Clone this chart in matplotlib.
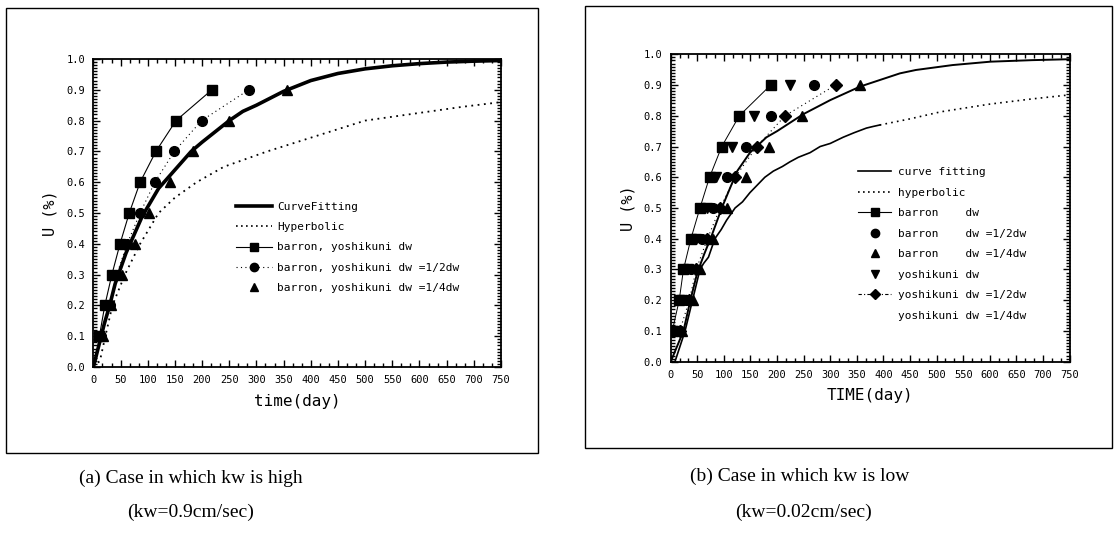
import matplotlib
matplotlib.use('Agg')
import matplotlib.pyplot as plt
from matplotlib.ticker import MultipleLocator, AutoMinorLocator
from matplotlib.lines import Line2D
from matplotlib.patches import Rectangle

plt.rcParams['font.family'] = 'DejaVu Sans Mono'

u_levels = [0.1, 0.2, 0.3, 0.4, 0.5, 0.6, 0.7, 0.8, 0.9]

# (a) kw high
a_fit_t = [0, 10, 20, 30, 40, 50, 60, 70, 80, 90, 100, 120, 140, 160, 180, 200,
           225, 250, 275, 300, 350, 400, 450, 500, 550, 600, 650, 700, 750]
a_fit_u = [0, 0.07, 0.14, 0.2, 0.27, 0.32, 0.37, 0.41, 0.45, 0.49, 0.52, 0.58, 0.62,
           0.66, 0.70, 0.73, 0.765, 0.80, 0.83, 0.85, 0.895, 0.93, 0.953, 0.968,
           0.978, 0.985, 0.99, 0.993, 0.995]
a_hyp_t = [0, 12, 22, 35, 58, 86, 120, 150, 190, 240, 320, 410, 500, 600, 680, 750]
a_hyp_u = [0, 0.02, 0.1, 0.2, 0.3, 0.4, 0.5, 0.55, 0.6, 0.65, 0.7, 0.75, 0.8, 0.825,
           0.845, 0.86]
a_dw = [11, 21, 34, 49, 66, 86, 115, 152, 218]
a_half = [14, 30, 43, 62, 86, 113, 149, 199, 286]
a_quarter = [18, 32, 52, 76, 103, 141, 183, 250, 357]

# (b) kw low
b_fit_t = [0, 12, 24, 37, 50, 63, 77, 96, 108, 125, 149, 180, 200, 249, 300, 356,
           431, 461, 530, 601, 680, 750]
b_fit_u = [0, 0.05, 0.1, 0.2, 0.29, 0.35, 0.41, 0.5, 0.55, 0.62, 0.68, 0.73, 0.75,
           0.805, 0.851, 0.895, 0.938, 0.949, 0.965, 0.976, 0.981, 0.984]
b_meas_t = [0, 8, 27, 41, 55, 62, 71, 83, 95, 105, 121, 135, 149, 163, 177, 193, 210,
            224, 240, 262, 281, 300, 324, 345, 368, 380, 393]
b_meas_u = [0, 0.0, 0.1, 0.2, 0.3, 0.32, 0.34, 0.4, 0.43, 0.46, 0.5, 0.52, 0.55,
            0.575, 0.6, 0.62, 0.635, 0.65, 0.665, 0.68, 0.7, 0.71, 0.73, 0.745, 0.76,
            0.765, 0.77]
b_hyp_t = [393, 450, 508, 600, 680, 750]
b_hyp_u = [0.77, 0.79, 0.813, 0.838, 0.855, 0.868]
b_barron_dw = [3, 16, 24, 38, 55, 73, 96, 129, 188]
b_barron_half = [11, 29, 39, 58, 80, 106, 141, 188, 270]
b_barron_quarter = [22, 41, 55, 80, 106, 142, 184, 247, 356]
b_yoshi_dw = [8, 22, 32, 48, 68, 86, 116, 156, 224]
b_yoshi_half = [17, 35, 48, 69, 93, 121, 162, 215, 310]

W, H = 1118, 542


def px_axes(fig, x0, x1, ytop, ybot):
    return fig.add_axes([x0 / W, 1 - ybot / H, (x1 - x0) / W, (ybot - ytop) / H])


def style(ax, xlabel):
    ax.set_xlim(0, 750)
    ax.set_ylim(0, 1.0)
    ax.xaxis.set_major_locator(MultipleLocator(50))
    ax.xaxis.set_minor_locator(AutoMinorLocator(3))
    ax.yaxis.set_major_locator(MultipleLocator(0.1))
    ax.yaxis.set_minor_locator(AutoMinorLocator(10))
    ax.yaxis.set_major_formatter(plt.FormatStrFormatter('%.1f'))
    ax.tick_params(which='both', direction='in', top=True, right=True, labelsize=7.5,
                   width=1, pad=6)
    ax.tick_params(which='major', length=5)
    ax.tick_params(which='minor', length=3)
    for s in ax.spines.values():
        s.set_linewidth(1.3)
    ax.set_xlabel(xlabel, fontsize=11.5, labelpad=6)
    ax.set_ylabel('U (%)', fontsize=11, labelpad=6)


fig = plt.figure(figsize=(W / 100, H / 100), dpi=100)

# frames around panels
fig.patches.append(Rectangle((6 / W, 1 - 453 / H), 532 / W, 445 / H, fill=False,
                             lw=1, ec='k', transform=fig.transFigure))
fig.patches.append(Rectangle((585 / W, 1 - 448 / H), 527 / W, 442 / H, fill=False,
                             lw=1, ec='k', transform=fig.transFigure))

# ---- panel (a)
ax1 = px_axes(fig, 93.4, 501, 59, 367)
ax1.plot(a_hyp_t, a_hyp_u, 'k', ls=(0, (1, 2.5)), lw=1.3)
ax1.plot(a_fit_t, a_fit_u, 'k-', lw=2.6)
ax1.plot(a_dw, u_levels, 'k-', lw=0.8, marker='s', ms=7)
ax1.plot(a_half, u_levels, 'k', ls=(0, (1, 3)), lw=0.8, marker='o', ms=7)
ax1.plot(a_quarter, u_levels, 'k^', ms=7.5)
style(ax1, 'time(day)')

h1 = [Line2D([], [], color='k', lw=2.6),
      Line2D([], [], color='k', ls=(0, (1, 2)), lw=1.2),
      Line2D([], [], color='k', lw=0.8, marker='s', ms=6),
      Line2D([], [], color='k', ls=(0, (1, 3)), lw=0.8, marker='o', ms=6),
      Line2D([], [], color='k', ls='none', marker='^', ms=6)]
l1 = ['CurveFitting', 'Hyperbolic', 'barron, yoshikuni dw',
      'barron, yoshikuni dw =1/2dw', 'barron, yoshikuni dw =1/4dw']
ax1.legend(h1, l1, loc='upper left', bbox_to_anchor=((236 - 93.4) / 407.6, (367 - 202) / 308),
           frameon=False, fontsize=8, handlelength=3.2, handletextpad=0.5,
           labelspacing=0.92, borderpad=0, borderaxespad=0)

# ---- panel (b)
ax2 = px_axes(fig, 670.7, 1069.6, 54.3, 361.7)
ax2.plot(b_hyp_t, b_hyp_u, 'k', ls=(0, (1, 2.5)), lw=1.2)
ax2.plot(b_meas_t, b_meas_u, 'k-', lw=1.2)
ax2.plot(b_fit_t, b_fit_u, 'k-', lw=1.4)
ax2.plot(b_barron_dw, u_levels, 'k-', lw=0.7, marker='s', ms=7)
ax2.plot(b_barron_half, u_levels, 'ko', ms=7)
ax2.plot(b_barron_quarter, u_levels, 'k^', ms=7.5)
ax2.plot(b_yoshi_dw, u_levels, 'kv', ms=7.5)
ax2.plot(b_yoshi_half, u_levels, 'k', ls=(0, (1, 3)), lw=0.8, marker='D', ms=6)
style(ax2, 'TIME(day)')

h2 = [Line2D([], [], color='k', lw=1.2),
      Line2D([], [], color='k', ls=(0, (1, 2)), lw=1.2),
      Line2D([], [], color='k', lw=0.8, marker='s', ms=6),
      Line2D([], [], color='k', ls='none', marker='o', ms=6),
      Line2D([], [], color='k', ls='none', marker='^', ms=6),
      Line2D([], [], color='k', ls='none', marker='v', ms=6),
      Line2D([], [], color='k', ls=(0, (3, 2, 1, 2)), lw=0.8, marker='D', ms=5),
      Line2D([], [], color='none', ls='none')]
l2 = ['curve fitting', 'hyperbolic', 'barron    dw', 'barron    dw =1/2dw',
      'barron    dw =1/4dw', 'yoshikuni dw', 'yoshikuni dw =1/2dw',
      'yoshikuni dw =1/4dw']
ax2.legend(h2, l2, loc='upper left',
           bbox_to_anchor=((858 - 670.7) / 398.9, (361.7 - 167) / 307.4),
           frameon=False, fontsize=8, handlelength=3.0, handletextpad=0.6,
           labelspacing=0.95, borderpad=0, borderaxespad=0)

# captions
cap = dict(family='Liberation Serif', fontsize=14, ha='center', va='center')
fig.text(191 / W, 1 - 478 / H, '(a) Case in which kw is high', **cap)
fig.text(191 / W, 1 - 512 / H, '(kw=0.9cm/sec)', **cap)
fig.text(800 / W, 1 - 476 / H, '(b) Case in which kw is low', **cap)
fig.text(803 / W, 1 - 512 / H, '(kw=0.02cm/sec)', **cap)

fig.savefig('out.png', dpi=100)
